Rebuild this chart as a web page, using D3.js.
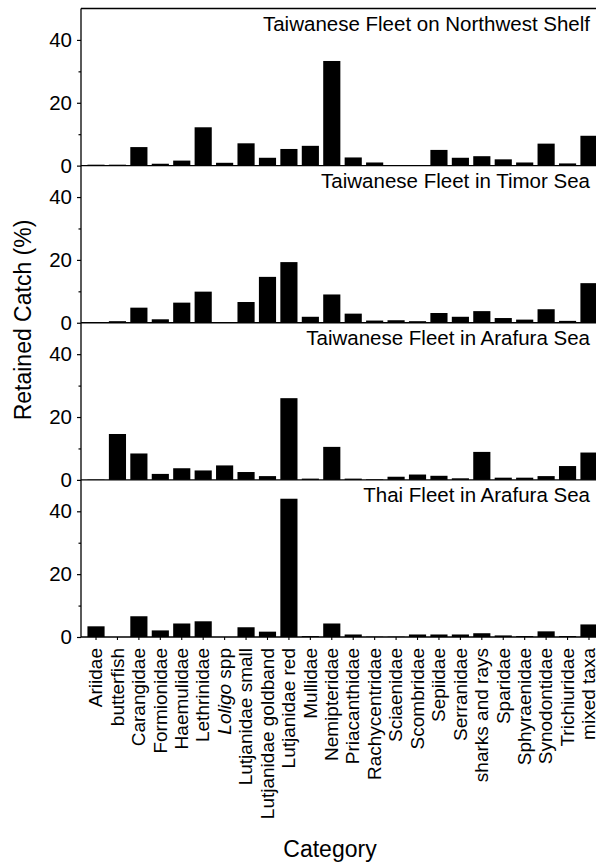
<!DOCTYPE html>
<html>
<head>
<meta charset="utf-8">
<script src="https://cdn.jsdelivr.net/npm/d3@7"></script>
<style>
  html, body { margin: 0; padding: 0; background: #fff; }
  svg { display: block; }
  text { font-family: "Liberation Sans", Arial, Helvetica, sans-serif; fill: #000; }
</style>
</head>
<body>
<div id="chart"></div>
<script>
/* Retained catch by category, four fleets/areas */
const categories = [
  "Ariidae", "butterfish", "Carangidae", "Formionidae", "Haemulidae", "Lethrinidae",
  "Loligo spp", "Lutjanidae small", "Lutjanidae goldband", "Lutjanidae red", "Mullidae",
  "Nemipteridae", "Priacanthidae", "Rachycentridae", "Sciaenidae", "Scombridae",
  "Sepiidae", "Serranidae", "sharks and rays", "Sparidae", "Sphyraenidae",
  "Synodontidae", "Trichiuridae", "mixed taxa"
];

const panelTitles = [
  "Taiwanese Fleet on Northwest Shelf",
  "Taiwanese Fleet in Timor Sea",
  "Taiwanese Fleet in Arafura Sea",
  "Thai Fleet in Arafura Sea"
];

const nwShelf    = [0.3, 0.3, 5.9, 0.6, 1.6, 12.2, 0.9, 7.1, 2.5, 5.3, 6.3, 33.3, 2.6, 1.0, 0.1, 0.1, 5.0, 2.5, 3.0, 2.0, 1.0, 7.0, 0.7, 9.5];
const timorSea   = [0.2, 0.5, 4.8, 1.1, 6.4, 9.9, 0.2, 6.6, 14.6, 19.3, 1.9, 9.0, 2.9, 0.7, 0.8, 0.5, 3.1, 1.9, 3.7, 1.5, 1.0, 4.3, 0.6, 12.6];
const arafuraTw  = [0.1, 14.6, 8.4, 1.9, 3.7, 3.0, 4.6, 2.5, 1.2, 26.0, 0.4, 10.5, 0.4, 0.2, 1.0, 1.7, 1.3, 0.5, 8.9, 0.7, 0.7, 1.2, 4.4, 8.7];
const arafuraTh  = [3.4, 0.0, 6.6, 2.1, 4.3, 5.0, 0.0, 3.1, 1.7, 44.0, 0.3, 4.3, 0.8, 0.1, 0.1, 0.8, 0.8, 0.8, 1.2, 0.5, 0.3, 1.8, 0.3, 4.0];

const yMajor = [0, 20, 40];
const yMinor = [10, 30];

const W = 596, H = 863;
const plotLeft = 81, plotTop = 8.5, plotBottom = 637;
const panelH = (plotBottom - plotTop) / 4;

const svg = d3.select("#chart").append("svg")
  .attr("width", W).attr("height", H);

const x = d3.scaleBand().domain(categories)
  .range([85.3, 599.7]).paddingInner(0.2).paddingOuter(0.1);

const panels = [nwShelf, timorSea, arafuraTw, arafuraTh];

panels.forEach((vals, p) => {
  const y0 = plotTop + panelH * (p + 1);
  const y = d3.scaleLinear().domain([0, 50]).range([y0, y0 - panelH]);
  const g = svg.append("g");

  /* bars */
  g.selectAll("rect").data(vals).join("rect")
    .attr("x", (d, i) => x(categories[i]))
    .attr("width", x.bandwidth())
    .attr("y", d => y(d))
    .attr("height", d => y0 - y(d))
    .attr("fill", "#000");

  /* zero line and top line */
  g.append("line").attr("x1", plotLeft).attr("x2", 600).attr("y1", y0).attr("y2", y0)
    .attr("stroke", "#000").attr("stroke-width", 1.3);
  if (p === 0) {
    g.append("line").attr("x1", plotLeft).attr("x2", 600).attr("y1", y(50)).attr("y2", y(50))
      .attr("stroke", "#000").attr("stroke-width", 1.3);
  }

  /* y axis */
  const ax = g.append("g").attr("transform", `translate(${plotLeft},0)`)
    .call(d3.axisLeft(y).tickValues(yMajor).tickSize(4).tickPadding(5).tickSizeOuter(0));
  ax.select(".domain").remove();
  ax.selectAll("line").attr("stroke-width", 1.2);
  ax.selectAll("text").attr("font-size", 20.5);
  g.append("g").attr("transform", `translate(${plotLeft},0)`)
    .call(d3.axisLeft(y).tickValues(yMinor).tickSize(2.5).tickFormat(""))
    .call(s => s.select(".domain").remove())
    .selectAll("line").attr("stroke-width", 1.2);

  /* panel title */
  g.append("text").attr("x", 590).attr("y", y(50) + 22)
    .attr("text-anchor", "end").attr("font-size", 20.5)
    .text(panelTitles[p]);
});

/* left axis line */
svg.append("line").attr("x1", plotLeft).attr("x2", plotLeft).attr("y1", plotTop).attr("y2", plotBottom)
  .attr("stroke", "#000").attr("stroke-width", 1.3);

/* category axis */
const xa = svg.append("g").attr("transform", `translate(0,${plotBottom})`)
  .call(d3.axisBottom(x).tickSize(3).tickSizeOuter(0).tickFormat(""));
xa.select(".domain").remove();
xa.selectAll("line").attr("stroke-width", 1.1);

const labels = svg.append("g").selectAll("text").data(categories).join("text")
  .attr("transform", d => `translate(${x(d) + x.bandwidth() / 2},${plotBottom + 11}) rotate(-90)`)
  .attr("dy", "0.33em")
  .attr("text-anchor", "end")
  .attr("font-size", 19);
labels.each(function (d) {
  const t = d3.select(this);
  if (d === "Loligo spp") {
    t.append("tspan").attr("font-style", "italic").text("Loligo");
    t.append("tspan").text(" spp");
  } else {
    t.text(d);
  }
});

/* axis titles */
svg.append("text").attr("transform", `translate(31,320) rotate(-90)`)
  .attr("text-anchor", "middle").attr("font-size", 23)
  .text("Retained Catch (%)");
svg.append("text").attr("x", 330).attr("y", 857)
  .attr("text-anchor", "middle").attr("font-size", 23)
  .text("Category");
</script>
</body>
</html>
